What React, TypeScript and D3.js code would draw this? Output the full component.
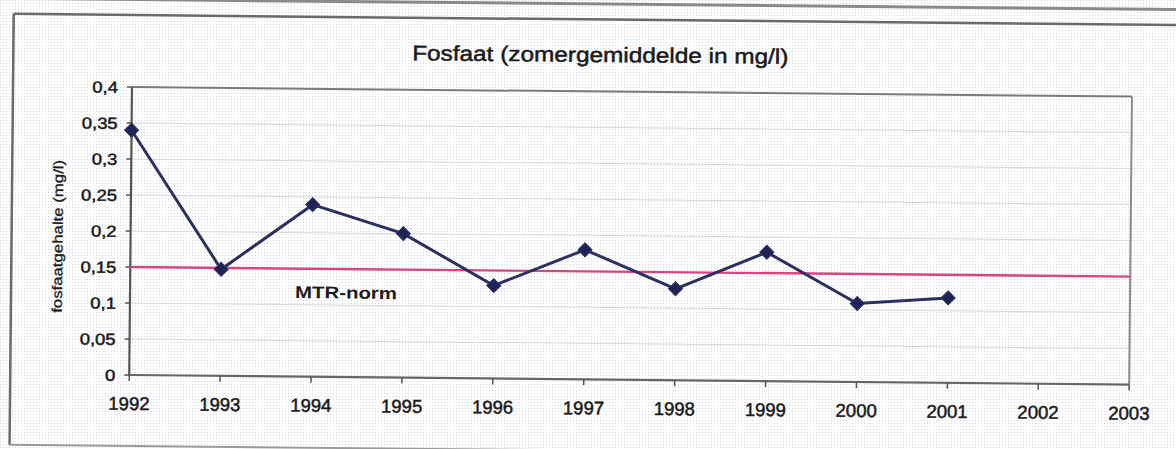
import React from "react";
import * as d3 from "d3";

const years = [1992, 1993, 1994, 1995, 1996, 1997, 1998, 1999, 2000, 2001];
const fosfaat = [0.34, 0.148, 0.239, 0.2, 0.129, 0.18, 0.127, 0.179, 0.109, 0.118];
const mtrNorm = 0.15;
const xTicks = [1992, 1993, 1994, 1995, 1996, 1997, 1998, 1999, 2000, 2001, 2002, 2003];
const yTicks = [0, 0.05, 0.1, 0.15, 0.2, 0.25, 0.3, 0.35, 0.4];
const yTickLabels = ["0", "0,05", "0,1", "0,15", "0,2", "0,25", "0,3", "0,35", "0,4"];
const title = "Fosfaat (zomergemiddelde in mg/l)";
const yTitle = "fosfaatgehalte (mg/l)";
const normLabel = "MTR-norm";

const W = 1176;
const H = 449;
const L = 132, T = 87, R = 1132, B = 375;
const FONT = "'Liberation Sans', Arial, Helvetica, sans-serif";
const TXT = "#1a1a1a";

export default function App() {
  const x = d3.scaleLinear().domain([1992, 2003]).range([L, R]);
  const y = d3.scaleLinear().domain([0, 0.4]).range([B, T]);
  const line = d3
    .line<number>()
    .x((_, i) => x(years[i]))
    .y((d) => y(d));
  const r = 7;
  const diamond = `M0,${-r}L${r},0L0,${r}L${-r},0Z`;

  return (
    <svg
      width={W}
      height={H}
      style={{ position: "absolute", left: 0, top: 0, display: "block" }}
    >
      <defs>
        <pattern id="dots" width={3} height={3} patternUnits="userSpaceOnUse">
          <rect width={3} height={3} fill="#ffffff" />
          <rect width={1} height={1} fill="#d6d6de" />
        </pattern>
      </defs>
      <rect width={W} height={H} fill="url(#dots)" />
      <g transform={`rotate(0.55 ${L} ${T})`}>
        {/* page edge line */}
        <line x1={40} x2={1220} y1={-0.5} y2={-0.5} stroke="#8a8a8a" strokeWidth={3} />
        {/* outer frame */}
        <line x1={13} x2={1220} y1={15} y2={15} stroke="#6a6a6a" strokeWidth={2.5} />
        <line x1={13} x2={13} y1={15} y2={446} stroke="#6a6a6a" strokeWidth={2.5} />
        <line x1={13} x2={620} y1={446} y2={446} stroke="#9a9a9a" strokeWidth={2} />

        {/* title */}
        <text
          transform={`translate(600,57.5) scale(1.16,1)`}
          textAnchor="middle"
          fontFamily={FONT}
          fontSize={21}
          fill={TXT}
          stroke={TXT}
          strokeWidth={0.5}
        >
          {title}
        </text>

        {/* gridlines */}
        {yTicks.slice(1, -1).map((t) => (
          <line key={t} x1={L} x2={R} y1={y(t)} y2={y(t)} stroke="#d8d8d8" strokeWidth={1} />
        ))}

        {/* plot frame */}
        <line x1={L} x2={R} y1={T} y2={T} stroke="#7a7a7a" strokeWidth={2} />
        <line x1={R} x2={R} y1={T} y2={B} stroke="#8a8a8a" strokeWidth={2} />
        <line x1={L} x2={R} y1={B} y2={B} stroke="#666" strokeWidth={2.2} />
        <line x1={L} x2={L} y1={T} y2={B} stroke="#555" strokeWidth={2.2} />

        {/* y ticks */}
        {yTicks.map((t, i) => (
          <g key={t}>
            <line x1={L - 5} x2={L} y1={y(t)} y2={y(t)} stroke="#555" strokeWidth={1.5} />
            <text
              transform={`translate(${L - 14},${y(t) + 6}) scale(1.15,1)`}
              textAnchor="end"
              fontFamily={FONT}
              fontSize={16}
              fill={TXT}
              stroke={TXT}
              strokeWidth={0.5}
            >
              {yTickLabels[i]}
            </text>
          </g>
        ))}

        {/* x ticks */}
        {xTicks.map((t) => (
          <g key={t}>
            <line x1={x(t)} x2={x(t)} y1={B} y2={B + 6} stroke="#555" strokeWidth={1.5} />
            <text
              x={x(t)}
              y={B + 35}
              textAnchor="middle"
              fontFamily={FONT}
              fontSize={18.5}
              fill={TXT}
              stroke={TXT}
              strokeWidth={0.5}
            >
              {t}
            </text>
          </g>
        ))}

        {/* y title */}
        <text
          transform={`translate(64,${(T + B) / 2 + 6}) rotate(-90) scale(1.2,1)`}
          textAnchor="middle"
          fontFamily={FONT}
          fontSize={14}
          fill={TXT}
          stroke={TXT}
          strokeWidth={0.3}
        >
          {yTitle}
        </text>

        {/* MTR norm */}
        <line x1={L} x2={R} y1={y(mtrNorm)} y2={y(mtrNorm)} stroke="#d9457f" strokeWidth={2.4} />
        <text
          transform={`translate(297,296.5) scale(1.2,1)`}
          fontFamily={FONT}
          fontSize={17}
          fontWeight="bold"
          fill={TXT}
        >
          {normLabel}
        </text>

        {/* series */}
        <path d={line(fosfaat) ?? ""} fill="none" stroke="#2c3060" strokeWidth={3} />
        {fosfaat.map((v, i) => (
          <path
            key={years[i]}
            d={diamond}
            transform={`translate(${x(years[i])},${y(v)})`}
            fill="#1f2458"
            stroke="#2c3060"
            strokeWidth={1}
          />
        ))}
      </g>
    </svg>
  );
}
